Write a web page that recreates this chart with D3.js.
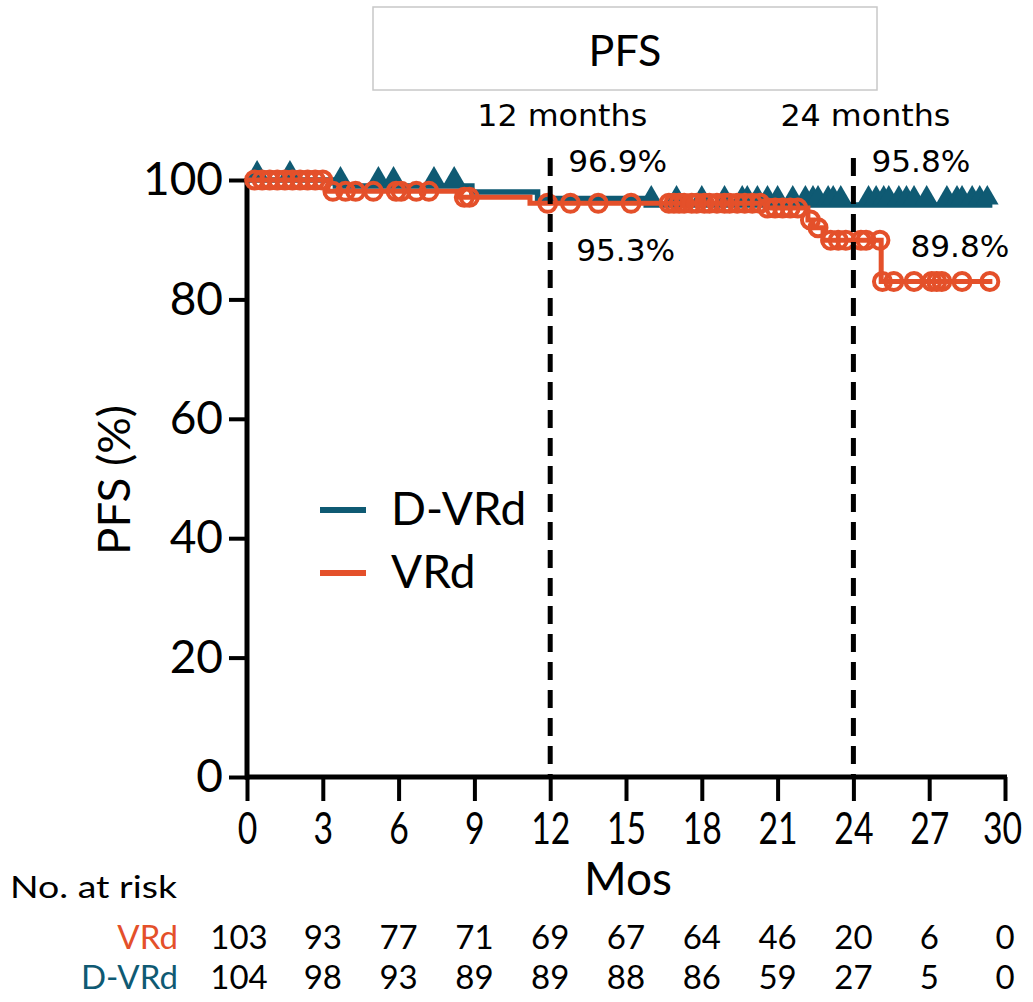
<!DOCTYPE html>
<html>
<head>
<meta charset="utf-8">
<script src="https://cdn.jsdelivr.net/npm/d3@7"></script>
<style>
  body { margin: 0; background: #fff; }
  svg { display: block; }
</style>
</head>
<body>
<div id="kmChart"></div>
<script>
// --- data ---
var xTicks = [0, 3, 6, 9, 12, 15, 18, 21, 24, 27, 30];
var yTicks = [0, 20, 40, 60, 80, 100];

// D-VRd step curve (months, PFS %)
var dvrdTimes = [0, 3.5, 8.9, 11.5, 15.8, 29.5];
var dvrdSurv  = [100, 99.0, 98.0, 96.9, 95.8, 95.8];
var dvrdCensor = [0.4, 1.7, 3.7, 5.2, 5.8, 7.4, 8.2, 16.0, 17.0, 18.0, 18.9, 19.6, 19.8,
                  20.2, 20.6, 21.0, 21.6, 22.1, 22.4, 22.6, 23.0, 23.2, 23.5, 24.6, 24.9,
                  25.2, 25.4, 25.8, 26.1, 26.4, 26.9, 27.7, 28.1, 28.3, 28.7, 29.0, 29.3];

// VRd step curve
var vrdTimes = [0, 3.2, 8.4, 11.2, 20.5, 22.2, 22.4, 22.8, 25.1, 29.5];
var vrdSurv  = [100, 98.1, 97.1, 96.1, 95.3, 93.3, 92.0, 89.9, 83.0, 83.0];
var vrdCensor = [0.3, 0.6, 0.9, 1.2, 1.5, 1.8, 2.1, 2.4, 2.7, 3.0, 3.4, 3.9, 4.3, 5.0, 5.9,
                 6.1, 6.7, 7.2, 8.6, 8.8, 11.9, 12.8, 13.9, 15.2, 16.7, 16.9, 17.1, 17.3,
                 17.6, 17.8, 18.1, 18.3, 18.6, 18.9, 19.1, 19.4, 19.7, 20.0, 20.3, 20.6,
                 20.9, 21.2, 21.5, 21.8, 22.3, 22.6, 23.1, 23.4, 23.7, 24.3, 24.5, 25.05,
                 25.15, 25.6, 26.4, 27.1, 27.3, 27.5, 28.3, 29.4];

// numbers at risk
var vrdRisk  = [103, 93, 77, 71, 69, 67, 64, 46, 20, 6, 0];
var dvrdRisk = [104, 98, 93, 89, 89, 88, 86, 59, 27, 5, 0];

// landmark annotations
var landmarks = [12, 24];
var landmarkLabels = ["12 months", "24 months"];
var dvrdLandmarkText = ["96.9%", "95.8%"];
var vrdLandmarkText  = ["95.3%", "89.8%"];

var TEAL = "#0f5a73";
var ORANGE = "#e4502a";
var width = 1033, height = 1002;

var svg = d3.select("#kmChart").append("svg")
    .attr("width", width)
    .attr("height", height);

var x = d3.scaleLinear().domain([0, 30]).range([247, 1005]);
var y = d3.scaleLinear().domain([0, 100]).range([777, 180]);

// title box
svg.append("rect")
    .attr("x", 373).attr("y", 7).attr("width", 504).attr("height", 83)
    .attr("fill", "none").attr("stroke", "#c8c8c8").attr("stroke-width", 1.5);
svg.append("text")
    .attr("x", 625).attr("y", 66)
    .attr("text-anchor", "middle")
    .style("font-family", "Lato, sans-serif").style("font-size", "43px")
    .text("PFS");

// y axis
var yAxis = svg.append("g")
    .attr("transform", "translate(" + x(0) + ",0)")
    .call(d3.axisLeft(y).tickValues(yTicks).tickSize(18).tickSizeOuter(0).tickPadding(6));
yAxis.select(".domain").attr("stroke-width", 5).attr("d", "M0," + (y(0) + 2.5) + "V" + (y(100) - 2));
yAxis.selectAll(".tick line").attr("stroke-width", 4);
yAxis.selectAll(".tick text")
    .style("font-family", "Lato, sans-serif").style("font-size", "46px")
    .attr("fill", "#000");

// x axis (labels squeezed horizontally like the original)
var xScaleText = 0.75;
var xAxis = svg.append("g")
    .attr("transform", "translate(0," + y(0) + ")")
    .call(d3.axisBottom(x).tickValues(xTicks).tickSize(24).tickSizeOuter(0).tickPadding(8));
xAxis.select(".domain").attr("stroke-width", 5).attr("d", "M" + (x(0) - 2) + ",0H" + (x(30) + 2));
xAxis.selectAll(".tick line").attr("stroke-width", 4);
xAxis.selectAll(".tick text")
    .style("font-family", "Lato, sans-serif").style("font-size", "45px")
    .attr("fill", "#000")
    .attr("dy", "0.78em")
    .attr("x", function(d) { return d === 30 ? -3 / xScaleText : 0; })
    .attr("transform", "scale(" + xScaleText + ",1)");

// axis titles
svg.append("text")
    .attr("transform", "translate(130,480) rotate(-90)")
    .attr("text-anchor", "middle")
    .style("font-family", "Lato, sans-serif").style("font-size", "44px")
    .attr("textLength", 150).attr("lengthAdjust", "spacingAndGlyphs")
    .text("PFS (%)");
svg.append("text")
    .attr("x", 628).attr("y", 895)
    .attr("text-anchor", "middle")
    .style("font-family", "Lato, sans-serif").style("font-size", "46px")
    .text("Mos");

// step lookup for censor marks
function survAt(times, surv, t) {
  var i = d3.bisectRight(times, t) - 1;
  return surv[Math.max(0, i)];
}

var line = d3.line()
    .x(function(d) { return x(d[0]); })
    .y(function(d) { return y(d[1]); })
    .curve(d3.curveStepAfter);

// D-VRd curve
svg.append("path")
    .datum(d3.zip(dvrdTimes, dvrdSurv))
    .attr("d", line)
    .attr("fill", "none").attr("stroke", TEAL).attr("stroke-width", 5.5);
svg.selectAll("tri")
    .data(dvrdCensor)
    .enter().append("path")
    .attr("d", d3.symbol(d3.symbolTriangle, 220))
    .attr("transform", function(d) {
      return "translate(" + x(d) + "," + (y(survAt(dvrdTimes, dvrdSurv, d)) - 7) + ")";
    })
    .attr("fill", TEAL);

// VRd curve
svg.append("path")
    .datum(d3.zip(vrdTimes, vrdSurv))
    .attr("d", line)
    .attr("fill", "none").attr("stroke", ORANGE).attr("stroke-width", 5);
svg.selectAll("circ")
    .data(vrdCensor)
    .enter().append("circle")
    .attr("cx", function(d) { return x(d); })
    .attr("cy", function(d) { return y(survAt(vrdTimes, vrdSurv, d)); })
    .attr("r", 8.5)
    .attr("fill", "none").attr("stroke", ORANGE).attr("stroke-width", 4);

// landmark dashed lines
svg.selectAll("dash")
    .data(landmarks)
    .enter().append("line")
    .attr("x1", function(d) { return x(d); }).attr("x2", function(d) { return x(d); })
    .attr("y1", 158).attr("y2", y(0))
    .attr("stroke", "#000").attr("stroke-width", 5)
    .attr("stroke-dasharray", "18,10");

svg.selectAll("lmLabel")
    .data(landmarks)
    .enter().append("text")
    .attr("x", function(d) { return x(d) + 12; })
    .attr("y", 126)
    .attr("text-anchor", "middle")
    .style("font-family", "'DejaVu Sans', sans-serif").style("font-size", "30px")
    .attr("textLength", 170).attr("lengthAdjust", "spacingAndGlyphs")
    .text(function(d, i) { return landmarkLabels[i]; });

svg.selectAll("dvrdPct")
    .data(landmarks)
    .enter().append("text")
    .attr("x", function(d) { return x(d) + 18; })
    .attr("y", 172)
    .style("font-family", "'DejaVu Sans', sans-serif").style("font-size", "30px")
    .attr("textLength", 99).attr("lengthAdjust", "spacingAndGlyphs")
    .text(function(d, i) { return dvrdLandmarkText[i]; });

svg.selectAll("vrdPct")
    .data(landmarks)
    .enter().append("text")
    .attr("x", function(d, i) { return x(d) + (i === 0 ? 26 : 57); })
    .attr("y", function(d, i) { return i === 0 ? 261 : 257; })
    .style("font-family", "'DejaVu Sans', sans-serif").style("font-size", "30px")
    .attr("textLength", 99).attr("lengthAdjust", "spacingAndGlyphs")
    .text(function(d, i) { return vrdLandmarkText[i]; });

// legend
var legend = [["D-VRd", TEAL, 510, 525], ["VRd", ORANGE, 573, 588]];
legend.forEach(function(l) {
  svg.append("line")
      .attr("x1", 320).attr("x2", 366).attr("y1", l[2]).attr("y2", l[2])
      .attr("stroke", l[1]).attr("stroke-width", 6);
  svg.append("text")
      .attr("x", 391).attr("y", l[3])
      .style("font-family", "Lato, sans-serif").style("font-size", "46px")
      .text(l[0]);
});

// number at risk table
svg.append("text")
    .attr("x", 10).attr("y", 898)
    .style("font-family", "Lato, sans-serif").style("font-size", "31px")
    .attr("textLength", 167).attr("lengthAdjust", "spacingAndGlyphs")
    .text("No. at risk");

var riskRows = [["VRd", ORANGE, vrdRisk, 949], ["D-VRd", TEAL, dvrdRisk, 989]];
riskRows.forEach(function(r) {
  svg.append("text")
      .attr("x", 178).attr("y", r[3])
      .attr("text-anchor", "end")
      .style("font-family", "Lato, sans-serif").style("font-size", "33px")
      .attr("fill", r[1])
      .text(r[0]);
  svg.selectAll(null)
      .data(r[2])
      .enter().append("text")
      .attr("x", function(d, i) { return x(xTicks[i]) - (i === 0 ? 8 : 0); })
      .attr("y", r[3])
      .attr("text-anchor", "middle")
      .style("font-family", "Lato, sans-serif").style("font-size", "33px")
      .text(function(d) { return d; });
});
</script>
</body>
</html>
